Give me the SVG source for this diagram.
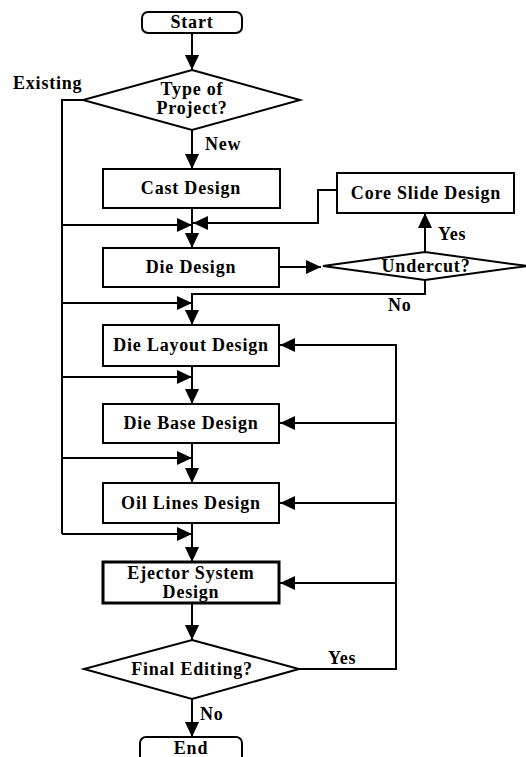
<svg xmlns="http://www.w3.org/2000/svg" width="526" height="757" viewBox="0 0 526 757">
<defs>
<marker id="ah" markerUnits="userSpaceOnUse" markerWidth="16" markerHeight="14" refX="15" refY="7" orient="auto">
<path d="M0,0 L15,7 L0,14 z" fill="#000"/>
</marker>
<style>
.box{fill:#fff;stroke:#000;stroke-width:2}
.thick{stroke-width:3}
.ln{fill:none;stroke:#000;stroke-width:2}
.arr{fill:none;stroke:#000;stroke-width:2;marker-end:url(#ah)}
.t{font-family:"Liberation Serif","Times New Roman",serif;font-weight:bold;font-size:18px;letter-spacing:0.8px;fill:#000}
.c{text-anchor:middle}
</style>
</defs>
<rect width="526" height="757" fill="#fff"/>
<g id="connectors">
<path class="arr" d="M192,33 V70"/>
<path class="ln" d="M83,100 H62 V534"/>
<path class="arr" d="M192,130 V169"/>
<path class="arr" d="M192,208 V248"/>
<path class="arr" d="M62,225 H192"/>
<path class="arr" d="M337,190 H318 V223 H193"/>
<path class="arr" d="M279,267 H321"/>
<path class="arr" d="M425,252 V213"/>
<path class="arr" d="M425,280 V294 H192 V325"/>
<path class="arr" d="M62,303 H192"/>
<path class="arr" d="M62,377 H192"/>
<path class="arr" d="M192,366 V404"/>
<path class="arr" d="M62,458 H192"/>
<path class="arr" d="M192,443 V483"/>
<path class="arr" d="M62,534 H192"/>
<path class="arr" d="M192,523 V562"/>
<path class="arr" d="M192,603 V640"/>
<path class="arr" d="M192,699 V737"/>
<path class="arr" d="M299,669 H396 V345 H280"/>
<path class="arr" d="M396,423 H280"/>
<path class="arr" d="M396,503 H280"/>
<path class="arr" d="M396,583 H280"/>
<text class="t" x="13" y="89">Existing</text>
<text class="t" x="205" y="150">New</text>
<text class="t" x="438" y="240">Yes</text>
<text class="t" x="388" y="311">No</text>
<text class="t" x="328" y="664">Yes</text>
<text class="t" x="200" y="720">No</text>
</g>
<g id="start">
<rect class="box" x="142" y="12" width="100" height="21" rx="6"/>
<text class="t c" x="192" y="28">Start</text>
</g>
<g id="type">
<polygon class="box" points="192,70 300,100 192,130 83,100"/>
<text class="t c" x="192" y="95">Type of</text>
<text class="t c" x="192" y="114">Project?</text>
</g>
<g id="cast">
<rect class="box" x="103" y="169" width="177" height="39"/>
<text class="t c" x="191" y="194">Cast Design</text>
</g>
<g id="core">
<rect class="box" x="337" y="173" width="177" height="40"/>
<text class="t c" x="426" y="199">Core Slide Design</text>
</g>
<g id="die">
<rect class="box" x="103" y="248" width="176" height="39"/>
<text class="t c" x="191" y="273">Die Design</text>
</g>
<g id="undercut">
<polygon class="box" points="323,266 425,252 527,266 425,280"/>
<text class="t c" x="426" y="272">Undercut?</text>
</g>
<g id="layout">
<rect class="box" x="103" y="325" width="176" height="41"/>
<text class="t c" x="191" y="351">Die Layout Design</text>
</g>
<g id="base">
<rect class="box" x="103" y="404" width="176" height="39"/>
<text class="t c" x="191" y="429">Die Base Design</text>
</g>
<g id="oil">
<rect class="box" x="103" y="483" width="176" height="40"/>
<text class="t c" x="191" y="509">Oil Lines Design</text>
</g>
<g id="ejector">
<rect class="box thick" x="103" y="562" width="176" height="41"/>
<text class="t c" x="191" y="579">Ejector System</text>
<text class="t c" x="191" y="598">Design</text>
</g>
<g id="final">
<polygon class="box" points="192,640 299,669 192,699 84,669"/>
<text class="t c" x="192" y="675">Final Editing?</text>
</g>
<g id="end">
<rect class="box" x="140" y="737" width="102" height="28" rx="6"/>
<text class="t c" x="191" y="754">End</text>
</g>
</svg>
